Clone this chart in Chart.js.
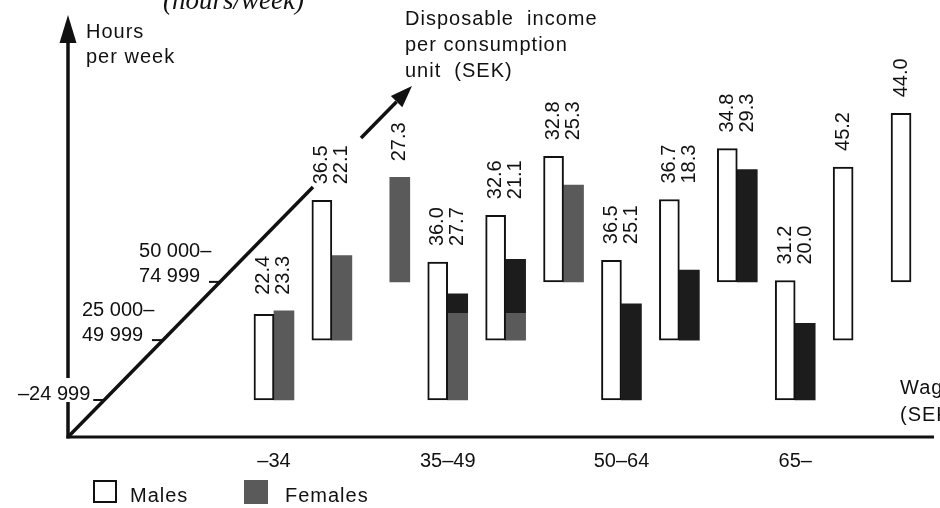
<!DOCTYPE html>
<html><head><meta charset="utf-8">
<script src="https://cdn.jsdelivr.net/npm/chart.js@4.4.1/dist/chart.umd.min.js"></script>
<style>html,body{margin:0;padding:0;background:#fff;overflow:hidden}#wrap{position:relative;width:940px;height:508px}</style>
</head><body><div id="wrap"><canvas id="c" width="940" height="508"></canvas></div>
<script>
// ---- data ----
const ageGroups = ['–34', '35–49', '50–64', '65–'];
const incomeBands = [['–24 999'], ['25 000–', '49 999'], ['50 000–', '74 999']];
const seriesNames = ['Males', 'Females'];
// order: for each age group, income bands low -> high
const malesHours   = [22.4, 36.5, null, 36.0, 32.6, 32.8, 36.5, 36.7, 34.8, 31.2, 45.2, 44.0];
const femalesHours = [23.3, 22.1, 27.3, 27.7, 21.1, 25.3, 25.1, 18.3, 29.3, 20.0, null, null];

// ---- layout / style ----
const DEPTH_BASE = [9.66, 25.3, 40.5];   // pseudo-3D lift of each income band (hours units)
const Y_MAX = 114.1;
const AXIS_X = 68;
const SLOPE = 0.98;
const INK = '#111';
const GRAY = '#5a5a5a';
const BLACK = '#1c1c1c';
const FEMALE_TONE = ['g','g','g','s','s','g','b','b','b','b','b','b'];
const SPLIT_Y = 313;
const WORD_FONT = '20px "Liberation Sans", Arial, sans-serif';

const labels = [];
ageGroups.forEach(a => incomeBands.forEach(b => labels.push(a + ' / ' + b.join(''))));
const floatIt = arr => arr.map((v, k) => v == null ? null : [DEPTH_BASE[k % 3], DEPTH_BASE[k % 3] + v]);

function femaleColor(ctx) {
  const t = FEMALE_TONE[ctx.dataIndex];
  if (t === 'b') return BLACK;
  if (t === 's') {
    const h = ctx.chart.height || 508;
    const g = ctx.chart.ctx.createLinearGradient(0, 0, 0, h);
    g.addColorStop(0, BLACK); g.addColorStop(SPLIT_Y / h, BLACK);
    g.addColorStop(SPLIT_Y / h, GRAY); g.addColorStop(1, GRAY);
    return g;
  }
  return GRAY;
}

function seg(c, x1, y1, x2, y2) { c.beginPath(); c.moveTo(x1, y1); c.lineTo(x2, y2); c.stroke(); }
function tri(c, pts) { c.beginPath(); c.moveTo(pts[0][0], pts[0][1]); c.lineTo(pts[1][0], pts[1][1]); c.lineTo(pts[2][0], pts[2][1]); c.closePath(); c.fill(); }

const decor = {
  id: 'decor',
  beforeDatasetsDraw(chart) {
    const c = chart.ctx, ys = chart.scales.y, xs = chart.scales.x;
    const X0 = AXIS_X, Y0 = ys.getPixelForValue(0);
    const diagX = y => X0 + (Y0 - y) * SLOPE;
    c.save();
    c.strokeStyle = INK; c.fillStyle = INK;
    // vertical axis + arrow (interrupted behind the lowest income label)
    c.lineWidth = 3.5;
    seg(c, X0, Y0 + 1.5, X0, 402);
    seg(c, X0, 378, X0, 40);
    tri(c, [[X0, 15], [X0 - 8.5, 43], [X0 + 8.5, 43]]);
    // horizontal axis
    c.lineWidth = 3; seg(c, X0 - 1.5, Y0, 934, Y0);
    // diagonal (income) axis, interrupted behind the labels
    c.lineWidth = 3.5;
    seg(c, X0, Y0, diagX(187), 187);
    const tipY = 86, tip = [diagX(tipY), tipY];
    const n = Math.hypot(SLOPE, 1), ux = SLOPE / n, uy = -1 / n;
    const bx = tip[0] - ux * 22, by = tip[1] - uy * 22;
    seg(c, diagX(138), 138, bx, by);
    tri(c, [tip, [bx + (1 / n) * 8, by + (SLOPE / n) * 8], [bx - (1 / n) * 8, by - (SLOPE / n) * 8]]);
    // ticks + income labels
    c.font = WORD_FONT; c.textBaseline = 'middle';
    DEPTH_BASE.forEach((b, i) => {
      const ty = ys.getPixelForValue(b), tx = diagX(ty);
      c.lineWidth = 2; seg(c, tx - 11, ty, tx, ty);
      const lines = incomeBands[i];
      if (lines.length === 1) {
        c.textAlign = 'right'; c.fillText(lines[0], tx - 14, ty - 6);
      } else {
        c.textAlign = 'left';
        lines.forEach((t, j) => c.fillText(t, tx - 81, ty - 5 - (lines.length - 1 - j) * 25));
      }
    });
    // age labels
    c.textAlign = 'center'; c.textBaseline = 'alphabetic';
    ageGroups.forEach((a, i) => c.fillText(a, xs.getPixelForValue(i * 3), 467));
    // axis titles
    c.textAlign = 'left';
    c.letterSpacing = '1px';
    c.fillText('Hours', 86, 38); c.fillText('per week', 86, 63);
    c.fillText('Disposable  income', 405, 25);
    c.fillText('per consumption', 405, 51);
    c.fillText('unit  (SEK)', 405, 77);
    c.fillText('Wages', 900, 394);
    c.fillText('(SEK)', 900, 421);
    c.letterSpacing = '0px';
    c.font = 'italic 27px "Liberation Serif", "Times New Roman", serif';
    c.fillText('(hours/week)', 163, 9);
    c.restore();
  },
  afterDatasetsDraw(chart) {
    const c = chart.ctx;
    const m0 = chart.getDatasetMeta(0), m1 = chart.getDatasetMeta(1);
    c.save();
    c.fillStyle = INK;
    c.font = WORD_FONT; c.textAlign = 'left'; c.textBaseline = 'middle';
    labels.forEach((_, k) => {
      const items = [];
      if (malesHours[k] != null) items.push([m0.data[k], malesHours[k]]);
      if (femalesHours[k] != null) items.push([m1.data[k], femalesHours[k]]);
      const top = Math.min(...items.map(it => it[0].y));
      items.forEach(([el, v]) => {
        c.save(); c.translate(el.x, top - 16); c.rotate(-Math.PI / 2);
        c.fillText(v.toFixed(1), 0, 0); c.restore();
      });
    });
    // legend
    c.lineWidth = 2; c.strokeStyle = INK; c.fillStyle = '#fff';
    c.fillRect(94, 481, 22, 21); c.strokeRect(94, 481, 22, 21);
    c.fillStyle = GRAY; c.fillRect(244, 480, 24, 24);
    c.fillStyle = INK; c.textBaseline = 'alphabetic'; c.letterSpacing = '1px';
    c.fillText(seriesNames[0], 130, 502);
    c.fillText(seriesNames[1], 285, 502);
    c.restore();
  }
};

new Chart(document.getElementById('c').getContext('2d'), {
  type: 'bar',
  data: {
    labels,
    datasets: [
      { label: seriesNames[0], data: floatIt(malesHours), backgroundColor: '#fff', borderColor: INK,
        borderWidth: 2, borderSkipped: false, barThickness: 20 },
      { label: seriesNames[1], data: floatIt(femalesHours), backgroundColor: femaleColor,
        borderWidth: 0, barThickness: 20 }
    ]
  },
  options: {
    responsive: false, animation: false,
    layout: { padding: { left: 245, right: 0, top: 0, bottom: 71 } },
    scales: { x: { display: false }, y: { display: false, min: 0, max: Y_MAX } },
    plugins: { legend: { display: false }, tooltip: { enabled: false } }
  },
  plugins: [decor]
});
</script></body></html>
